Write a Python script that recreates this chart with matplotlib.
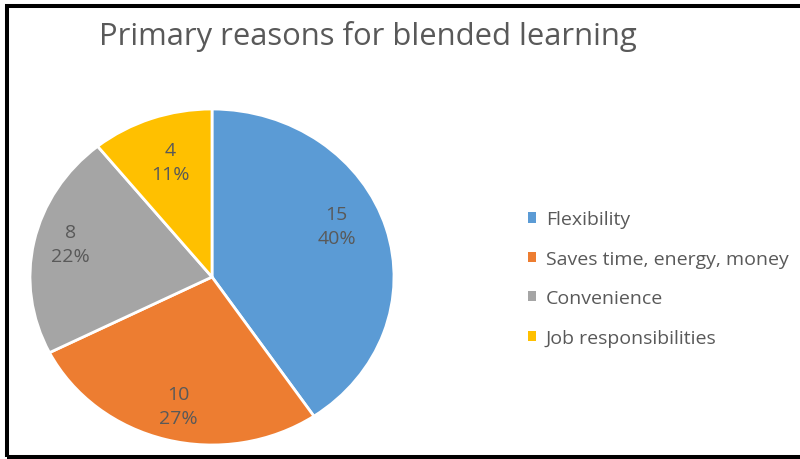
import matplotlib
matplotlib.use("Agg")
import matplotlib.pyplot as plt
from matplotlib.patches import Rectangle, Patch
import numpy as np

categories = ["Flexibility", "Saves time, energy, money", "Convenience", "Job responsibilities"]
values = [15, 10, 8, 4]
pct_labels = ["40%", "27%", "22%", "11%"]
colors = ["#5B9BD5", "#ED7D31", "#A5A5A5", "#FFC000"]
title = "Primary reasons for blended learning"

plt.rcParams['font.family'] = ['Open Sans', 'DejaVu Sans']
text_color = "#595959"

fig = plt.figure(figsize=(8, 4.6), dpi=100)

# Outer frame
fig.patches.append(Rectangle((6.5/800, 2.5/460), 1.0, 1 - 7/460 - 2.5/460,
                             transform=fig.transFigure, fill=False,
                             edgecolor="black", linewidth=2.9, zorder=10))

ax = fig.add_axes([30/800, 14/460, 364/800, 336/460])
wedges, _ = ax.pie(values, colors=colors, startangle=90, counterclock=False,
                   wedgeprops=dict(edgecolor="white", linewidth=2))
ax.set_xlim(-1, 1)
ax.set_ylim(-1, 1)
ax.set_aspect("auto")
ax.axis("off")

label_r = [0.75, 0.79, 0.80, 0.72]
label_da = [7, 1, -2, -1]
for w, v, p, r, da in zip(wedges, values, pct_labels, label_r, label_da):
    ang = np.deg2rad((w.theta1 + w.theta2) / 2 + da)
    ax.text(r * np.cos(ang), r * np.sin(ang), f"{v}\n{p}", ha="center", va="center",
            fontsize=14, color=text_color, linespacing=1.45)

fig.text(368/800, 1 - 37/460, title, ha="center", va="center", fontsize=22.3, color=text_color)

handles = [Patch(facecolor=c, edgecolor="none") for c in colors]
fig.legend(handles, categories, loc="center left", bbox_to_anchor=(528/800, 1 - 279.5/460),
           frameon=False, fontsize=14, labelcolor=text_color, handlelength=0.42,
           handleheight=0.42, handletextpad=0.5, labelspacing=1.1,
           borderpad=0, borderaxespad=0)

fig.savefig("out.png", dpi=100)
